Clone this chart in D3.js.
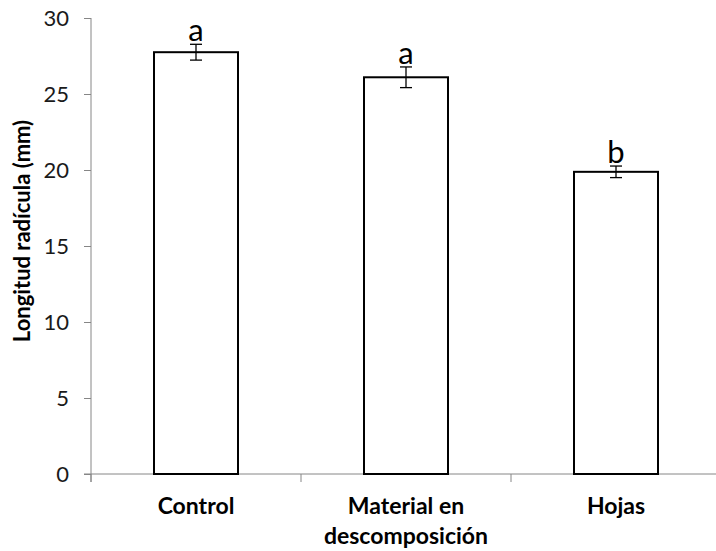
<!DOCTYPE html>
<html>
<head>
<meta charset="utf-8">
<script src="https://cdn.jsdelivr.net/npm/d3@7"></script>
<style>
  html, body { margin: 0; padding: 0; background: #fff; }
  svg { display: block; }
  text { font-family: Lato, "Open Sans", sans-serif; }
</style>
</head>
<body>
<script>
const categories = ["Control", "Material en descomposición", "Hojas"];
const labelLines = [["Control"], ["Material en", "descomposición"], ["Hojas"]];
const values = [27.75, 26.1, 19.88];
const errors = [0.52, 0.68, 0.38];
const letters = ["a", "a", "b"];
const yTicks = [0, 5, 10, 15, 20, 25, 30];
const yTitle = "Longitud radícula (mm)";

const W = 716, H = 551;
const svg = d3.select("body").append("svg").attr("width", W).attr("height", H);

const x = d3.scaleBand().domain(categories).range([91, 721]).paddingInner(0).paddingOuter(0);
const y = d3.scaleLinear().domain([0, 30]).range([474, 18]);
const barW = x.bandwidth() * 0.4;

const axisColor = "#868686";

// y axis
const yAxis = svg.append("g").attr("transform", `translate(${x.range()[0]},0)`)
  .call(d3.axisLeft(y).tickValues(yTicks).tickSize(7).tickPadding(15));
yAxis.select(".domain").attr("stroke", axisColor).attr("d", `M0,${y(30)}V${y(0) + 8}`);
yAxis.selectAll(".tick line").attr("stroke", axisColor);
yAxis.selectAll(".tick text").attr("font-size", 22).attr("fill", "#1a1a1a")
  .style("font-family", "Lato, sans-serif");

// x axis
const xAxis = svg.append("g").attr("transform", `translate(0,${y(0)})`);
xAxis.append("line").attr("x1", x.range()[0] - 7).attr("x2", W).attr("y1", 0).attr("y2", 0)
  .attr("stroke", axisColor);
xAxis.selectAll("line.tk").data(categories).join("line").attr("class", "tk")
  .attr("x1", d => x(d)).attr("x2", d => x(d)).attr("y1", 0).attr("y2", 8)
  .attr("stroke", axisColor);

// bars
svg.append("g").selectAll("rect").data(categories).join("rect")
  .attr("x", d => x(d) + (x.bandwidth() - barW) / 2)
  .attr("width", barW)
  .attr("y", (d, i) => y(values[i]))
  .attr("height", (d, i) => y(0) - y(values[i]))
  .attr("fill", "#fff").attr("stroke", "#000").attr("stroke-width", 2);

// error bars
const eg = svg.append("g").attr("stroke", "#000").attr("stroke-width", 1.3);
categories.forEach((c, i) => {
  const cx = x(c) + x.bandwidth() / 2;
  const top = y(values[i] + errors[i]), bot = y(values[i] - errors[i]);
  eg.append("line").attr("x1", cx).attr("x2", cx).attr("y1", top).attr("y2", bot);
  eg.append("line").attr("x1", cx - 6).attr("x2", cx + 6).attr("y1", top).attr("y2", top);
  eg.append("line").attr("x1", cx - 6).attr("x2", cx + 6).attr("y1", bot).attr("y2", bot);
});

// significance letters
svg.append("g").selectAll("text").data(categories).join("text")
  .attr("x", d => x(d) + x.bandwidth() / 2)
  .attr("y", (d, i) => y(values[i] + errors[i]) - 3)
  .attr("text-anchor", "middle").attr("font-size", 31).attr("fill", "#000")
  .text((d, i) => letters[i]);

// category labels
const lg = svg.append("g");
categories.forEach((c, i) => {
  const t = lg.append("text").attr("x", x(c) + x.bandwidth() / 2).attr("y", 514)
    .attr("text-anchor", "middle").attr("font-size", 23).attr("font-weight", "bold").attr("fill", "#000");
  labelLines[i].forEach((ln, j) => {
    t.append("tspan").attr("x", x(c) + x.bandwidth() / 2).attr("y", 514 + j * 30).text(ln);
  });
});

// y title
svg.append("text").attr("transform", `translate(30,231) rotate(-90)`)
  .attr("text-anchor", "middle").attr("font-size", 22).attr("font-weight", "bold").attr("fill", "#000")
  .text(yTitle);
</script>
</body>
</html>
